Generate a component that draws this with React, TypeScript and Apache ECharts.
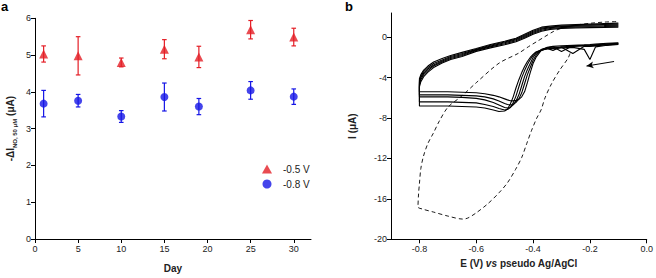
import React, { useEffect, useRef } from "react";
import * as echarts from "echarts";

// ---------- Panel a data ----------
const days = [1, 5, 10, 15, 19, 25, 30];
const v05Mean = [5.03, 4.98, 4.8, 5.16, 4.95, 5.69, 5.49];
const v05Err = [0.22, 0.52, 0.12, 0.26, 0.29, 0.25, 0.24];
const v08Mean = [3.68, 3.76, 3.33, 3.86, 3.6, 4.04, 3.87];
const v08Err = [0.36, 0.17, 0.16, 0.38, 0.22, 0.24, 0.21];
const xTicksA = [0, 5, 10, 15, 20, 25, 30];
const yTicksA = [0, 1, 2, 3, 4, 5, 6];

// ---------- Panel b data ----------
// cathodic (right -> left) potential grid, then anodic (left -> right)
const cathodicE = [-0.1, -0.14, -0.18, -0.2, -0.22, -0.26, -0.3, -0.33, -0.35, -0.37, -0.39, -0.4, -0.41, -0.42, -0.43, -0.44, -0.45, -0.46, -0.47, -0.48, -0.49, -0.5, -0.52, -0.54, -0.57, -0.6, -0.65, -0.7, -0.75, -0.8];
const anodicE = [-0.8, -0.795, -0.785, -0.77, -0.75, -0.72, -0.69, -0.65, -0.6, -0.55, -0.5, -0.46, -0.43, -0.4, -0.37, -0.34, -0.3, -0.25, -0.2, -0.15, -0.1];

const cycleA_cath = [-0.55, -0.6, -0.68, -0.72, -0.75, -0.8, -0.85, -0.9, -1.0, -1.25, -2.0, -2.6, -3.5, -4.5, -5.4, -5.9, -6.15, -6.25, -6.3, -6.28, -6.2, -6.1, -5.9, -5.75, -5.6, -5.5, -5.45, -5.4, -5.4, -5.4];
const cycleB_cath = [-0.6, -0.66, -0.74, -0.78, -0.8, -0.85, -1.4, -0.95, -1.05, -1.2, -1.8, -2.3, -3.0, -3.7, -4.6, -5.5, -6.1, -6.45, -6.65, -6.7, -6.65, -6.55, -6.3, -6.1, -5.9, -5.8, -5.75, -5.7, -5.7, -5.7];
const cycleC_cath = [-0.62, -0.7, -0.8, -0.85, -0.85, -0.9, -0.95, -1.3, -1.1, -1.3, -1.6, -2.0, -2.6, -3.2, -3.9, -4.8, -5.7, -6.3, -6.7, -6.95, -7.0, -6.95, -6.7, -6.45, -6.2, -6.05, -5.95, -5.9, -5.9, -5.9];
const cycleD_cath = [-0.68, -0.75, -0.85, -0.9, -0.9, -1.6, -1.0, -1.05, -1.1, -1.25, -1.5, -1.8, -2.2, -2.7, -3.3, -4.0, -4.9, -5.8, -6.5, -6.95, -7.15, -7.2, -7.05, -6.85, -6.65, -6.5, -6.45, -6.4, -6.4, -6.4];
const cycleE_cath = [-0.72, -0.8, -0.95, -2.2, -1.2, -1.0, -1.05, -1.1, -1.15, -1.25, -1.45, -1.7, -2.0, -2.4, -2.9, -3.5, -4.2, -5.0, -5.9, -6.6, -7.1, -7.3, -7.35, -7.2, -7.0, -6.9, -6.85, -6.8, -6.8, -6.8];

const cycleA_anod = [-4.9, -4.4, -3.9, -3.45, -3.0, -2.55, -2.2, -1.9, -1.4, -1.05, -0.75, -0.45, -0.1, 0.3, 0.6, 0.78, 0.88, 0.92, 0.95, 0.98, 1.0];
const cycleB_anod = [-4.7, -4.2, -3.7, -3.3, -2.85, -2.45, -2.1, -1.8, -1.32, -0.95, -0.65, -0.35, 0.0, 0.4, 0.7, 0.86, 0.96, 1.0, 1.03, 1.06, 1.1];
const cycleC_anod = [-4.5, -4.0, -3.55, -3.15, -2.75, -2.35, -2.0, -1.7, -1.25, -0.88, -0.55, -0.25, 0.1, 0.5, 0.8, 0.95, 1.05, 1.1, 1.13, 1.16, 1.2];
const cycleD_anod = [-4.3, -3.85, -3.4, -3.0, -2.6, -2.25, -1.9, -1.6, -1.2, -0.8, -0.47, -0.17, 0.2, 0.6, 0.9, 1.02, 1.12, 1.17, 1.22, 1.26, 1.3];
const cycleE_anod = [-4.1, -3.7, -3.25, -2.85, -2.45, -2.1, -1.8, -1.5, -1.12, -0.72, -0.4, -0.1, 0.3, 0.7, 1.0, 1.1, 1.2, 1.25, 1.3, 1.35, 1.4];

const firstScanE = [-0.27, -0.277, -0.306, -0.335, -0.358, -0.372, -0.387, -0.405, -0.422, -0.44, -0.462, -0.49, -0.52, -0.56, -0.601, -0.63, -0.647, -0.7, -0.751, -0.79, -0.805, -0.803, -0.8, -0.795, -0.786, -0.77, -0.751, -0.73, -0.699, -0.653, -0.6, -0.52, -0.451, -0.416, -0.387, -0.358, -0.329, -0.3, -0.25, -0.2, -0.15, -0.1];
const firstScanI = [-1.6, -2.08, -3.24, -4.6, -6.0, -7.2, -8.0, -9.2, -10.5, -11.9, -13.1, -14.4, -15.4, -16.5, -17.4, -17.9, -18.0, -17.7, -17.3, -17.0, -16.8, -15.5, -14.5, -13.0, -11.8, -10.5, -9.5, -8.3, -6.9, -5.87, -4.5, -2.57, -1.58, -0.93, -0.43, 0.07, 0.56, 0.9, 1.2, 1.38, 1.5, 1.55];

const xTicksB = [-0.8, -0.6, -0.4, -0.2, 0.0];
const yTicksB = [-20, -16, -12, -8, -4, 0];

const FONT = "Liberation Sans, Arial, sans-serif";
const TXT = "#222";

function cycleData(cath: number[], anod: number[]) {
  const d: number[][] = [];
  cathodicE.forEach((e, i) => d.push([e, cath[i]]));
  anodicE.forEach((e, i) => d.push([e, anod[i]]));
  return d;
}

function errorBarSeries(mean: number[], err: number[], color: string) {
  return {
    type: "custom",
    xAxisIndex: 0,
    yAxisIndex: 0,
    z: 1,
    silent: true,
    data: days.map((d, i) => [d, mean[i] - err[i], mean[i] + err[i]]),
    renderItem: (params: any, api: any) => {
      const x = api.value(0);
      const lo = api.coord([x, api.value(1)]);
      const hi = api.coord([x, api.value(2)]);
      const w = 2.3;
      const st = { stroke: color, lineWidth: 1.2 };
      return {
        type: "group",
        children: [
          { type: "line", shape: { x1: lo[0], y1: lo[1], x2: hi[0], y2: hi[1] }, style: st },
          { type: "line", shape: { x1: lo[0] - w, y1: lo[1], x2: lo[0] + w, y2: lo[1] }, style: st },
          { type: "line", shape: { x1: hi[0] - w, y1: hi[1], x2: hi[0] + w, y2: hi[1] }, style: st },
        ],
      };
    },
  };
}

export default function App() {
  const ref = useRef<HTMLDivElement>(null);
  useEffect(() => {
    if (!ref.current) return;
    const chart = echarts.init(ref.current, undefined, { renderer: "svg" });
    const axisCommon = {
      axisLine: { show: true, onZero: false, lineStyle: { color: "#000", width: 1 } },
      axisTick: { show: true, length: 4, lineStyle: { color: "#000" } },
      splitLine: { show: false },
    };
    const cycles = [
      cycleData(cycleA_cath, cycleA_anod),
      cycleData(cycleB_cath, cycleB_anod),
      cycleData(cycleC_cath, cycleC_anod),
      cycleData(cycleD_cath, cycleD_anod),
      cycleData(cycleE_cath, cycleE_anod),
    ];
    chart.setOption({
      animation: false,
      backgroundColor: "#fff",
      textStyle: { fontFamily: FONT },
      graphic: [
        { type: "text", left: 1, top: 0, style: { text: "a", font: `bold 13px ${FONT}`, fill: "#000" } },
        { type: "text", left: 345, top: 0, style: { text: "b", font: `bold 13px ${FONT}`, fill: "#000" } },
      ],
      legend: {
        orient: "vertical",
        left: 257,
        top: 159,
        itemWidth: 10,
        itemHeight: 9,
        itemGap: 5,
        data: ["-0.5 V", "-0.8 V"],
        textStyle: { fontSize: 10, color: TXT, fontFamily: FONT, padding: [0, 0, 0, 6] },
      },
      grid: [
        { left: 35, top: 18.3, width: 276, height: 221.7 },
        { left: 391, top: 13, width: 259, height: 226.3 },
      ],
      xAxis: [
        {
          gridIndex: 0,
          type: "value",
          min: 0,
          max: 32,
          ...axisCommon,
          axisTick: { ...axisCommon.axisTick, customValues: xTicksA },
          axisLabel: { customValues: xTicksA, fontSize: 9, color: TXT, margin: 5, fontFamily: FONT },
          name: "Day",
          nameLocation: "middle",
          nameGap: 24,
          nameTextStyle: { fontSize: 10, fontWeight: "bold", color: TXT, fontFamily: FONT },
        },
        {
          gridIndex: 1,
          type: "value",
          min: -0.9,
          max: 0,
          ...axisCommon,
          axisTick: { ...axisCommon.axisTick, customValues: xTicksB },
          axisLabel: {
            customValues: xTicksB,
            fontSize: 9,
            color: TXT,
            margin: 5,
            fontFamily: FONT,
            formatter: (v: number) => v.toFixed(1),
          },
          name: "{b|E (V) }{i|vs}{b| pseudo Ag/AgCl}",
          nameLocation: "middle",
          nameGap: 13,
          nameTextStyle: {
            rich: {
              b: { fontSize: 10, fontWeight: "bold", color: TXT, fontFamily: FONT },
              i: { fontSize: 10, fontWeight: "bold", fontStyle: "italic", color: TXT, fontFamily: FONT },
            },
          },
        },
      ],
      yAxis: [
        {
          gridIndex: 0,
          type: "value",
          min: 0,
          max: 6,
          ...axisCommon,
          axisTick: { ...axisCommon.axisTick, customValues: yTicksA },
          axisLabel: { customValues: yTicksA, fontSize: 9, color: TXT, margin: 4, fontFamily: FONT },
          name: "{m|-ΔI}{s|NO, 50 μM}{m| (μA)}",
          nameLocation: "middle",
          nameGap: 20,
          nameTextStyle: {
            rich: {
              m: { fontSize: 10, fontWeight: "bold", color: TXT, fontFamily: FONT, lineHeight: 14, verticalAlign: "bottom" },
              s: { fontSize: 6, fontWeight: "bold", color: TXT, fontFamily: FONT, lineHeight: 14, verticalAlign: "bottom", padding: [0, 0, -3, 0] },
            },
          },
        },
        {
          gridIndex: 1,
          type: "value",
          min: -20,
          max: 2.4,
          ...axisCommon,
          axisTick: { ...axisCommon.axisTick, customValues: yTicksB },
          axisLabel: { customValues: yTicksB, fontSize: 9, color: TXT, margin: 4, fontFamily: FONT },
          name: "I (μA)",
          nameLocation: "middle",
          nameGap: 34,
          nameTextStyle: { fontSize: 10, fontWeight: "bold", color: TXT, fontFamily: FONT },
        },
      ],
      series: [
        errorBarSeries(v05Mean, v05Err, "#e41e26"),
        errorBarSeries(v08Mean, v08Err, "#1515e6"),
        {
          type: "scatter",
          name: "-0.5 V",
          xAxisIndex: 0,
          yAxisIndex: 0,
          symbol: "triangle",
          symbolSize: 9,
          itemStyle: { color: "#e41e26" },
          z: 3,
          data: days.map((d, i) => [d, v05Mean[i]]),
        },
        {
          type: "scatter",
          name: "-0.8 V",
          xAxisIndex: 0,
          yAxisIndex: 0,
          symbol: "circle",
          symbolSize: 8,
          itemStyle: { color: "#1515e6" },
          z: 3,
          data: days.map((d, i) => [d, v08Mean[i]]),
        },
        ...cycles.map((c) => ({
          type: "line",
          xAxisIndex: 1,
          yAxisIndex: 1,
          showSymbol: false,
          symbol: "none",
          silent: true,
          lineStyle: { color: "#000", width: 1.1 },
          data: c,
        })),
        {
          type: "line",
          xAxisIndex: 1,
          yAxisIndex: 1,
          symbol: "none",
          silent: true,
          smooth: 0.3,
          lineStyle: { color: "#000", width: 0.9, type: [4, 3] },
          data: firstScanE.map((e, i) => [e, firstScanI[i]]),
          markLine: {
            silent: true,
            symbol: ["none", "arrow"],
            symbolSize: [5, 7],
            label: { show: false },
            lineStyle: { color: "#000", width: 1, type: "solid" },
            data: [[{ coord: [-0.115, -2.4] }, { coord: [-0.212, -2.85] }]],
          },
        },
      ],
    });
    return () => chart.dispose();
  }, []);
  return <div ref={ref} style={{ position: "fixed", left: 0, top: 0, width: 656, height: 278 }} />;
}
